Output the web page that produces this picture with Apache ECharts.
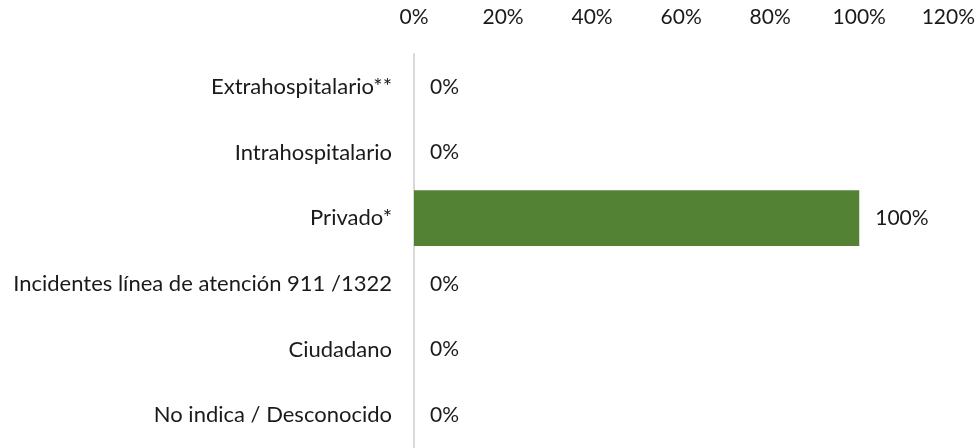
<!DOCTYPE html>
<html>
<head>
<meta charset="utf-8">
<script src="https://cdn.jsdelivr.net/npm/echarts@6/dist/echarts.min.js"></script>
<style>
  html, body { margin: 0; padding: 0; background: #fff; }
  #chart { width: 978px; height: 448px; }
</style>
</head>
<body>
<div id="chart"></div>
<script>
// datos
var categorias = ['Extrahospitalario**', 'Intrahospitalario', 'Privado*',
  'Incidentes línea de atención 911 /1322', 'Ciudadano', 'No indica / Desconocido'];
var valores = [0, 0, 100, 0, 0, 0];
var ticksX = [0, 20, 40, 60, 80, 100, 120];

var fuente = 'Lato, "Open Sans", sans-serif';
var colorTexto = '#1a1a1a';
var chart = echarts.init(document.getElementById('chart'));
var option = {
    animation: false,
    grid: {
        left: 414,
        width: 535,
        top: 54,
        height: 400
    },
    xAxis: {
        type: 'value',
        position: 'top',
        min: ticksX[0],
        max: ticksX[ticksX.length - 1],
        interval: 20,
        axisLine: { show: false },
        axisTick: { show: false },
        splitLine: { show: false },
        axisLabel: {
            margin: 26,
            color: colorTexto,
            fontSize: 21,
            fontFamily: fuente,
            formatter: '{value}%'
        }
    },
    yAxis: {
        type: 'category',
        inverse: true,
        data: categorias,
        axisLine: { show: true, lineStyle: { color: '#d9d9d9', width: 2 } },
        axisTick: { show: false },
        axisLabel: {
            margin: 22,
            color: colorTexto,
            fontSize: 22,
            fontFamily: fuente
        }
    },
    series: [{
        type: 'bar',
        data: valores,
        barCategoryGap: '15%',
        itemStyle: { color: '#548235' },
        label: {
            show: true,
            position: 'right',
            distance: 16,
            color: colorTexto,
            fontSize: 21,
            fontFamily: fuente,
            formatter: '{c}%'
        }
    }]
};
chart.setOption(option);
</script>
</body>
</html>
